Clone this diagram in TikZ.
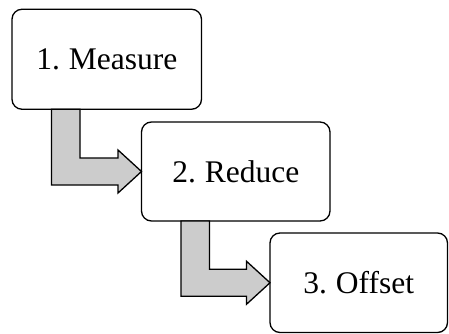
\documentclass[tikz,border=0pt]{standalone}
\usepackage{fontspec}
\setmainfont[WordSpace=0.8]{Liberation Serif}
\usetikzlibrary{calc}
\tikzset{
  stage/.style={draw=black, line width=1.3pt, rounded corners=10pt, fill=white,
    inner sep=0pt, outer sep=0pt, align=center,
    font=\fontsize{31.5}{36}\selectfont},
  flow/.style={draw=black, line width=1.3pt, fill=gray!40, line join=miter}
}
% bent block arrow: down from the bottom of #1, then right into the west side of #2
\newcommand{\bentarrow}[3]{%
  \coordinate (#3a) at ($(#1.south west)+(39.5,0)$);
  \coordinate (#3b) at ($(#2.west)+(0,13.5)$);
  \draw[flow] (#3a) -- ($(#1.south west)+(68,0)$)
    |- ($(#2.west)+(-23.5,-13.5)$) -- ++(0,-8) -- (#2.west)
    -- ($(#2.west)+(-23.5,21.5)$) -- ++(0,-8) -- (#3a |- #3b) -- cycle;
}
\begin{document}
\begin{tikzpicture}[x=1pt,y=-1pt]
  \useasboundingbox (0,0) rectangle (449,334);
  \node[stage, minimum width=189.5pt, minimum height=100pt] (m) at (106.75,59.25) {1. Measure};
  \node[stage, minimum width=188.5pt, minimum height=99pt] (r) at (235.75,171.5) {2. Reduce};
  \node[stage, minimum width=177.5pt, minimum height=99.5pt] (o) at (358.75,282.75) {3. Offset};
  \bentarrow{m}{r}{p}
  \bentarrow{r}{o}{q}
\end{tikzpicture}
\end{document}
